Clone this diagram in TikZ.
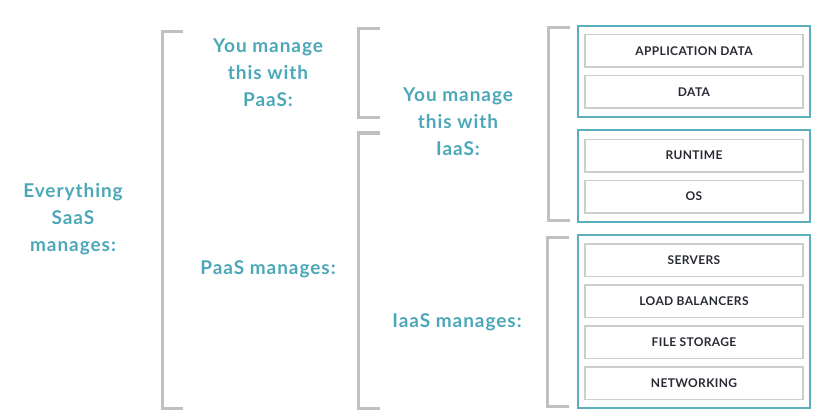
\documentclass[tikz,border=0pt]{standalone}
\usepackage{fontspec}
\setmainfont{Lato}
\newfontfamily\captionfont[LetterSpace=5]{Lato}
\newfontfamily\layerfont[LetterSpace=3]{Lato}
\usetikzlibrary{positioning,fit}
\definecolor{tealtext}{RGB}{76,168,184}
\definecolor{tealbox}{RGB}{92,176,188}
\definecolor{bracket}{RGB}{192,192,192}
\definecolor{layerline}{RGB}{205,205,205}
\definecolor{layertext}{RGB}{40,42,52}
\tikzstyle{layer} = [draw=layerline, line width=1.5pt, minimum width=218pt, minimum height=32.5pt, text=layertext, font=\layerfont\bfseries\fontsize{12}{13}\selectfont]
\tikzstyle{stack} = [draw=tealbox, line width=2pt, inner xsep=6pt, inner ysep=8pt]
\tikzstyle{brace} = [draw=bracket, line width=3pt]
\tikzstyle{caption} = [text=tealtext, align=center, font=\captionfont\bfseries\fontsize{19}{27}\selectfont]

\begin{document}
\begin{tikzpicture}[x=1pt, y=-1pt, node distance=7pt]

        \useasboundingbox (0,0) rectangle (839,420);

        % layers on the right
        \node[layer] (appdata) at (694,51) {APPLICATION DATA};
        \node[layer, below=of appdata] (data) {DATA};
        \node[stack, fit=(appdata)(data)] (yourstack) {};

        \node[layer] (runtime) at (694,155.5) {RUNTIME};
        \node[layer, below=of runtime] (os) {OS};
        \node[stack, fit=(runtime)(os)] (paasstack) {};

        \node[layer] (servers) at (694,260) {SERVERS};
        \node[layer, below=of servers] (balancers) {LOAD BALANCERS};
        \node[layer, below=of balancers] (storage) {FILE STORAGE};
        \node[layer, below=of storage] (networking) {NETWORKING};
        \node[stack, fit=(servers)(networking)] (iaasstack) {};

        % brackets
        \draw[brace] (183,32) -- (162,32) -- (162,408) -- (183,408);
        \draw[brace] (380,29) -- (358,29) -- (358,118) -- (380,118);
        \draw[brace] (380,133) -- (358,133) -- (358,408) -- (380,408);
        \draw[brace] (570,28) -- (548,28) -- (548,220) -- (570,220);
        \draw[brace] (569,237) -- (547,237) -- (547,406) -- (569,406);

        % captions
        \node[caption] (saas) at (73,219) {Everything\\SaaS\\manages:};
        \node[caption] (paasyou) at (268,73) {You manage\\this with\\PaaS:};
        \node[caption] (paasmanages) at (268,269) {PaaS manages:};
        \node[caption] (iaasyou) at (458,122) {You manage\\this with\\IaaS:};
        \node[caption] (iaasmanages) at (457,322) {IaaS manages:};

    \end{tikzpicture}
\end{document}
